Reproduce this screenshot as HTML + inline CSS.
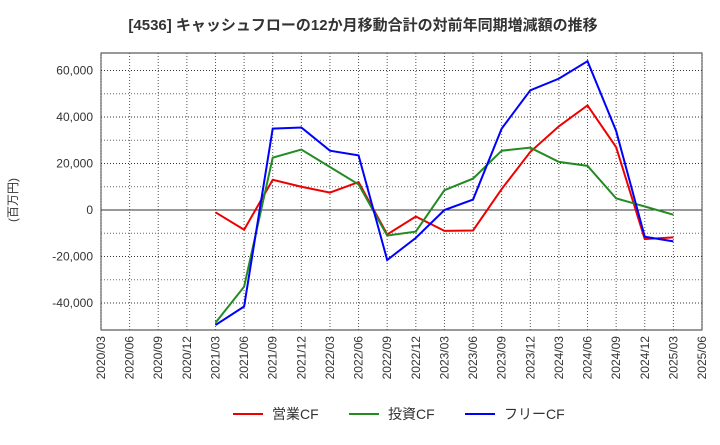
<!DOCTYPE html>
<html><head><meta charset="utf-8"><style>
body{margin:0;background:#fff;font-family:"Liberation Sans","Noto Sans CJK JP",sans-serif}
</style></head><body>
<svg width="720" height="440" xmlns="http://www.w3.org/2000/svg" font-family="Liberation Sans, Noto Sans CJK JP, sans-serif">
<text x="363" y="30" text-anchor="middle" font-size="15" font-weight="bold" fill="#333">[4536]  キャッシュフローの12か月移動合計の対前年同期増減額の推移</text>
<text transform="translate(17,200) rotate(-90)" text-anchor="middle" font-size="12" fill="#333">(百万円)</text>
<g id="grid"></g><g id="axes"></g><g id="series"></g>
<g>
<line x1="233" y1="414" x2="263" y2="414" stroke="#e00" stroke-width="2"/><text x="272" y="419" font-size="14" fill="#333">営業CF</text>
<line x1="349" y1="414" x2="379" y2="414" stroke="#228b22" stroke-width="2"/><text x="388" y="419" font-size="14" fill="#333">投資CF</text>
<line x1="465" y1="414" x2="495" y2="414" stroke="#00f" stroke-width="2"/><text x="504" y="419" font-size="14" fill="#333">フリーCF</text>
</g>
</svg>
<script>
const xLabels=["2020/03","2020/06","2020/09","2020/12","2021/03","2021/06","2021/09","2021/12","2022/03","2022/06","2022/09","2022/12","2023/03","2023/06","2023/09","2023/12","2024/03","2024/06","2024/09","2024/12","2025/03","2025/06"];
const yTicks=[-40000,-20000,0,20000,40000,60000];
const startIndex=4;
const operatingCF=[-1000,-8500,13000,10000,7500,12000,-10500,-2800,-9000,-8800,9000,25000,36000,45000,27000,-12500,-11800];
const investingCF=[-48500,-33000,22500,26000,18500,11000,-11000,-9300,8500,13500,25500,26800,20700,19000,5000,1500,-2000];
const freeCF=[-49500,-41500,35000,35500,25500,23500,-21500,-12000,0,4500,35000,51500,56500,64000,34000,-11500,-13500];
const L=101,R=702,T=53,B=330;
const NS="http://www.w3.org/2000/svg";
const x=i=>L+i*(R-L)/(xLabels.length-1);
const y=v=>210-v*46.5/20000;
function mk(t,a,p){const e=document.createElementNS(NS,t);for(const k in a)e.setAttribute(k,a[k]);p.appendChild(e);return e;}
const grid=document.getElementById('grid'),axes=document.getElementById('axes'),ser=document.getElementById('series');
mk('rect',{x:L,y:T,width:R-L,height:B-T,fill:'none',stroke:'#333'},grid);
xLabels.forEach((lab,i)=>{
 const g=mk('line',{x1:x(i),x2:x(i),y1:T,y2:B,stroke:'#555','stroke-dasharray':'1,2','stroke-width':1},grid);
 
 
 const t=mk('text',{transform:`translate(${x(i)+4},${B+6}) rotate(-90)`,'text-anchor':'end','font-size':12,fill:'#333'},axes);
 t.textContent=lab;
 
 
});
for(let v=-40000;v<=60000;v+=10000){
 const g=mk('line',{x1:L,x2:R,y1:y(v),y2:y(v),stroke:v%20000===0?'#333':'#666','stroke-dasharray':'1,2','stroke-width':1},grid);
 
 
}
yTicks.forEach(v=>{
 const t=mk('text',{x:93,y:y(v)+4,'text-anchor':'end','font-size':12,fill:'#333'},axes);
 t.textContent=v.toLocaleString('en-US');
 
 
});
mk('line',{x1:L,x2:R,y1:y(0),y2:y(0),stroke:'#333','stroke-width':1},grid);
function line(d,c,n){
 const p=mk('polyline',{points:d.map((v,i)=>x(i+startIndex)+','+y(v)).join(' '),fill:'none',stroke:c,'stroke-width':2},ser);
 
 
}
line(operatingCF,'#e00','operating-cf-line');
line(investingCF,'#228b22','investing-cf-line');
line(freeCF,'#00f','free-cf-line');
</script>
</body></html>
